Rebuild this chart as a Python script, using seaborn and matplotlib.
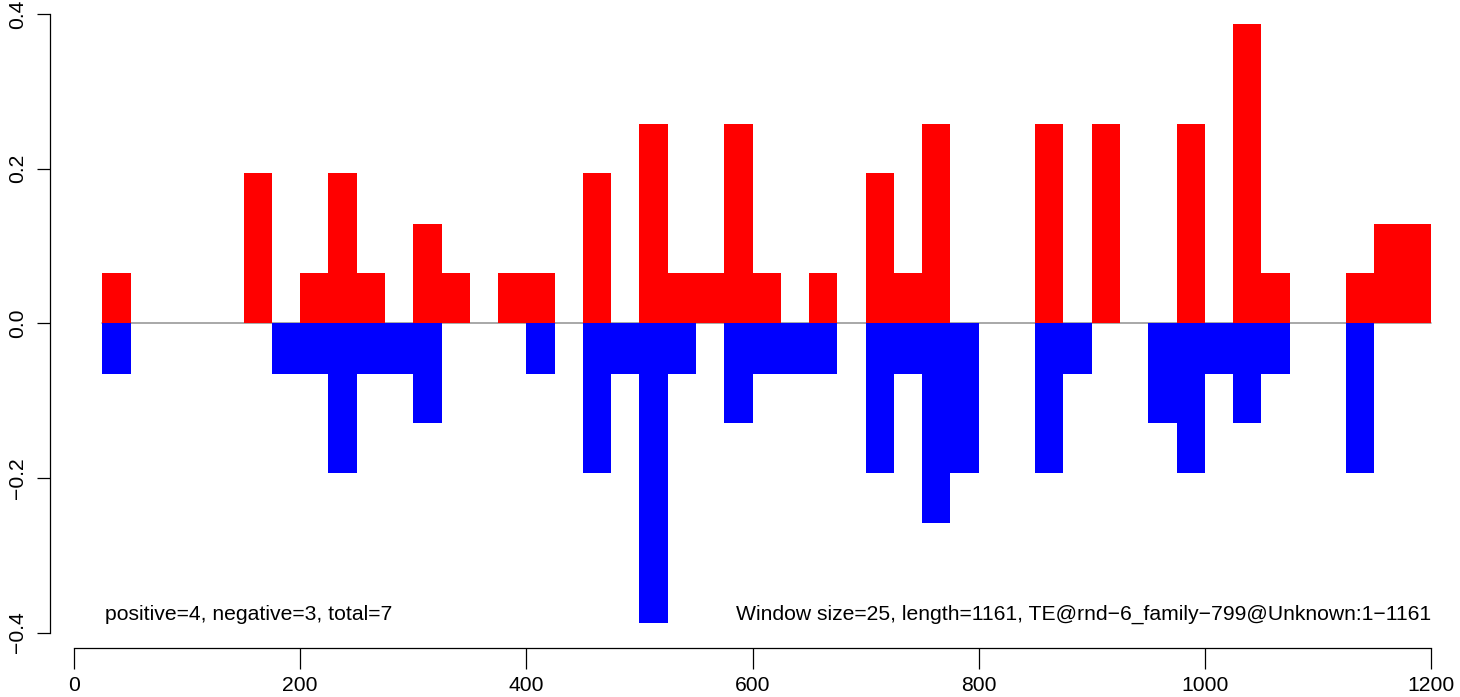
import matplotlib
matplotlib.use("Agg")
import matplotlib.pyplot as plt
import seaborn as sns
import pandas as pd
import numpy as np

# ---- data ----
window_size = 25
window_start = list(range(25, 1200, 25))  # 47 windows: 25 .. 1175
positive = [0.065, 0, 0, 0, 0, 0.194, 0, 0.065, 0.194, 0.065,
            0, 0.129, 0.065, 0, 0.065, 0.065, 0, 0.194, 0, 0.258,
            0.065, 0.065, 0.258, 0.065, 0, 0.065, 0, 0.194, 0.065, 0.258,
            0, 0, 0, 0.258, 0, 0.258, 0, 0, 0.258, 0,
            0.387, 0.065, 0, 0, 0.065, 0.129, 0.129]
negative = [-0.065, 0, 0, 0, 0, 0, -0.065, -0.065, -0.194, -0.065,
            -0.065, -0.129, 0, 0, 0, -0.065, 0, -0.194, -0.065, -0.387,
            -0.065, 0, -0.129, -0.065, -0.065, -0.065, 0, -0.194, -0.065, -0.258,
            -0.194, 0, 0, -0.194, -0.065, 0, 0, -0.129, -0.194, -0.065,
            -0.129, -0.065, 0, 0, -0.194, 0, 0]
x_ticks = [0, 200, 400, 600, 800, 1000, 1200]
y_ticks = [-0.4, -0.2, 0.0, 0.2, 0.4]
y_tick_labels = ["\u22120.4", "\u22120.2", "0.0", "0.2", "0.4"]
left_note = "positive=4, negative=3, total=7"
right_note = "Window size=25, length=1161, TE@rnd\u22126_family\u2212799@Unknown:1\u22121161"

df = pd.DataFrame({
    "center": [s + window_size / 2 for s in window_start],
    "positive": positive,
    "negative": negative,
})

sns.set_style("white")
plt.rcParams["font.family"] = ["Liberation Sans", "DejaVu Sans"]
FS = 15.2

W, H = 1460, 697
fig = plt.figure(figsize=(W / 100, H / 100), dpi=100)
left_px, right_px, top_px, bottom_px = 50, 1455, 0, 647.7
ax = fig.add_axes([left_px / W, (H - bottom_px) / H,
                   (right_px - left_px) / W, (bottom_px - top_px) / H])

# zero reference line
ax.plot([25, 1200], [0, 0], color="#9a9a9a", lw=1.2, zorder=0.5)

sns.barplot(data=df, x="center", y="positive", native_scale=True, width=1.0,
            color="#ff0000", saturation=1, linewidth=0, errorbar=None, ax=ax, zorder=2)
sns.barplot(data=df, x="center", y="negative", native_scale=True, width=1.0,
            color="#0000ff", saturation=1, linewidth=0, errorbar=None, ax=ax, zorder=2)

ax.set_xlim(-21.22, 1221.22)
ax.set_ylim(-0.4195, 0.4181)
ax.set_xlabel("")
ax.set_ylabel("")

for s in ["top", "right"]:
    ax.spines[s].set_visible(False)
ax.spines["left"].set_bounds(-0.4, 0.4)
ax.spines["bottom"].set_bounds(0, 1200)
for s in ["left", "bottom"]:
    ax.spines[s].set_color("black")
    ax.spines[s].set_linewidth(0.9)

ax.set_xticks(x_ticks)
ax.set_xticklabels([str(v) for v in x_ticks], fontsize=FS)
ax.set_yticks(y_ticks)
ax.set_yticklabels(y_tick_labels, fontsize=FS, rotation=90, va="center")
ax.tick_params(axis="x", length=14.8, width=0.9, pad=5.5, direction="out", bottom=True, colors="black")
ax.tick_params(axis="y", length=9.4, width=0.9, pad=7.0, direction="out", left=True, colors="black")

ax.text(27.4, -0.3837, left_note, fontsize=FS, ha="left", va="baseline", color="black")
ax.text(1200, -0.3837, right_note, fontsize=FS, ha="right", va="baseline", color="black")

fig.savefig("out.png", dpi=100)
